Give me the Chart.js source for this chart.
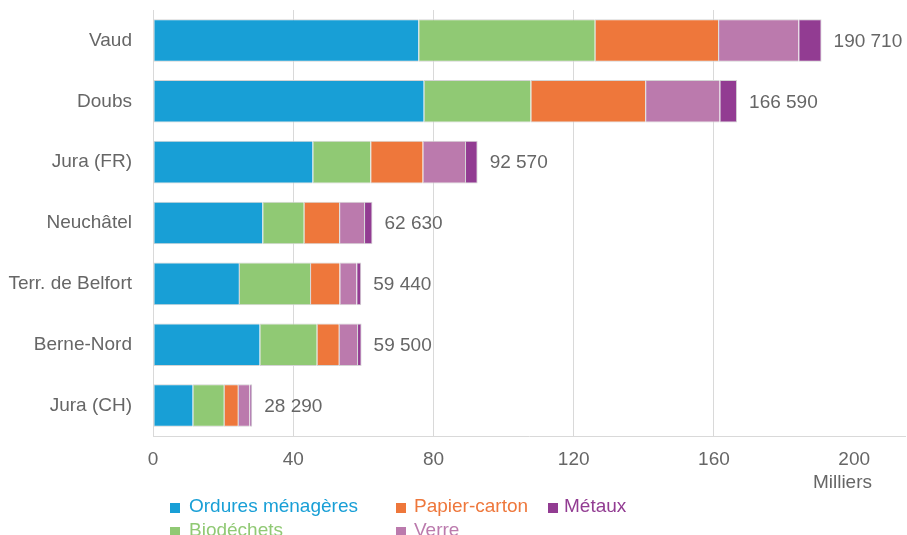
<!DOCTYPE html>
<html>
<head>
<meta charset="utf-8">
<script src="https://cdn.jsdelivr.net/npm/chart.js@4/dist/chart.umd.min.js"></script>
<style>
  html, body { margin: 0; padding: 0; background: #ffffff; }
  #c { display: block; }
</style>
</head>
<body>
<canvas id="c" width="907" height="535"></canvas>
<script>
// ---- Data (thousands of tonnes) ----
const categories = ['Vaud', 'Doubs', 'Jura (FR)', 'Neuchâtel', 'Terr. de Belfort', 'Berne-Nord', 'Jura (CH)'];
const seriesNames = ['Ordures ménagères', 'Biodéchets', 'Papier-carton', 'Verre', 'Métaux'];
const ordures   = [75.7, 77.2, 45.5, 31.2, 24.5, 30.4, 11.3];
const biodechets = [50.3, 30.5, 16.5, 11.8, 20.3, 16.3, 8.9];
const papier    = [35.2, 32.7, 14.9, 10.1, 8.4, 6.3, 4.0];
const verre     = [22.9, 21.2, 12.1, 7.1, 4.8, 5.2, 3.3];
const metaux    = [6.6, 5.0, 3.6, 2.4, 1.4, 1.3, 0.8];
const totals    = [190710, 166590, 92570, 62630, 59440, 59500, 28290];
const xTickValues = [0, 40, 80, 120, 160, 200];
const axisUnit = 'Milliers';

const seriesValues = [ordures, biodechets, papier, verre, metaux];
const seriesColors = ['#189fd6', '#90c974', '#ee773b', '#bb7aad', '#923c92'];

const FONT = 'Liberation Sans, Arial, Helvetica, sans-serif';
const TEXT = '#666666';
const GRID = '#d9d9d9';

function fmt(n) {
  return String(n).replace(/\B(?=(\d{3})+(?!\d))/g, ' ');
}

const datasets = seriesNames.map((name, i) => ({
  label: name,
  data: seriesValues[i],
  backgroundColor: seriesColors[i],
  borderColor: '#d4d4d4',
  borderWidth: { top: 1, bottom: 1, left: 1, right: i === seriesNames.length - 1 ? 1 : 0 },
  borderSkipped: false,
  barPercentage: 0.7,
  categoryPercentage: 1.0
}));

const extras = {
  id: 'extras',
  afterDatasetsDraw(chart) {
    const ctx = chart.ctx;
    ctx.save();
    ctx.font = '19px ' + FONT;
    ctx.fillStyle = TEXT;
    ctx.textAlign = 'left';
    ctx.textBaseline = 'middle';
    const lastMeta = chart.getDatasetMeta(chart.data.datasets.length - 1);
    lastMeta.data.forEach((el, i) => {
      ctx.fillText(fmt(totals[i]), el.x + 12, el.y + 1);
    });
    // axis unit
    const xs = chart.scales.x;
    const p200 = xs.getPixelForValue(200);
    const w200 = ctx.measureText('200').width;
    ctx.textAlign = 'right';
    ctx.fillText(axisUnit, p200 + w200 / 2 + 2, 483);
    // legend (column-major, 2 rows)
    const markerX = [175, 401, 553];
    const textX = [189, 414, 564];
    const rowY = [507, 531];
    ctx.textAlign = 'left';
    seriesNames.forEach((name, i) => {
      const col = Math.floor(i / 2), row = i % 2;
      const y = rowY[row];
      ctx.fillStyle = seriesColors[i];
      ctx.fillRect(markerX[col] - 5, y - 4, 10, 10);
      ctx.fillText(name, textX[col], y);
    });
    ctx.restore();
  }
};

new Chart(document.getElementById('c'), {
  type: 'bar',
  data: { labels: categories, datasets },
  plugins: [extras],
  options: {
    indexAxis: 'y',
    responsive: false,
    animation: false,
    layout: { padding: { top: 10, right: 2, bottom: 0, left: 0 } },
    plugins: {
      legend: { display: false },
      tooltip: { enabled: false }
    },
    scales: {
      x: {
        stacked: true,
        min: 0,
        max: 214.5,
        afterFit(scale) { scale.height = 99; scale.paddingLeft = 0; scale.paddingRight = 0; },
        afterBuildTicks(scale) { scale.ticks = xTickValues.map(v => ({ value: v })); },
        ticks: {
          stepSize: 40,
          includeBounds: false,
          padding: 12,
          color: TEXT,
          font: { family: FONT, size: 19 },
          maxRotation: 0
        },
        grid: {
          drawTicks: false,
          color: (c) => (c.tick && c.tick.value === 200) ? 'rgba(0,0,0,0)' : GRID,
          lineWidth: 1
        },
        border: { display: true, color: GRID }
      },
      y: {
        stacked: true,
        afterFit(scale) { scale.width = 153; scale.paddingTop = 0; scale.paddingBottom = 0; },
        ticks: {
          padding: 21,
          color: TEXT,
          font: { family: FONT, size: 19 }
        },
        grid: { display: false, drawTicks: false },
        border: { display: true, color: GRID }
      }
    }
  }
});
</script>
</body>
</html>
